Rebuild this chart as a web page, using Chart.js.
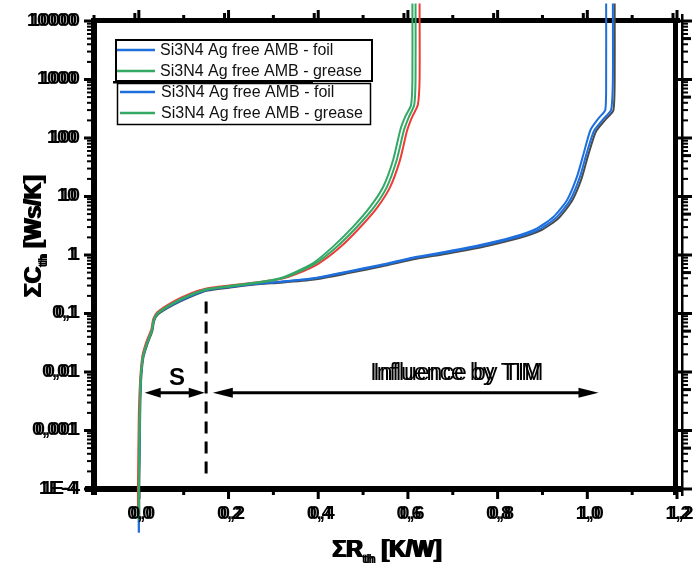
<!DOCTYPE html>
<html><head><meta charset="utf-8">
<script src="https://cdn.jsdelivr.net/npm/chart.js@4/dist/chart.umd.min.js"></script>
<style>html,body{margin:0;padding:0;background:#fff;}#wrap{width:695px;height:570px;}</style>
</head><body><div id="wrap"><canvas id="c" width="695" height="570"></canvas></div>
<script>
// ---- tick labels ----
const xTickValues = [0, 0.2, 0.4, 0.6, 0.8, 1.0, 1.2];
const xTickLabels = ['0,0', '0,2', '0,4', '0,6', '0,8', '1,0', '1,2'];
const xMinorValues = [-0.1, 0.1, 0.3, 0.5, 0.7, 0.9, 1.1];
const yTickValues = [1e-4, 1e-3, 1e-2, 1e-1, 1, 10, 100, 1000, 10000];
const yTickLabels = ['1E-4', '0,001', '0,01', '0,1', '1', '10', '100', '1000', '10000'];

// ---- legend ----
const legendLabels = ['Si3N4 Ag free AMB - foil', 'Si3N4 Ag free AMB - grease', 'Si3N4 Ag free AMB - foil', 'Si3N4 Ag free AMB - grease'];

// ---- series (ΣR_th [K/W], ΣC_th [Ws/K]) ----
const greaseA_R = [0.000, 0.000, 0.002, 0.004, 0.009, 0.018, 0.029, 0.033, 0.042, 0.076, 0.114, 0.152, 0.203, 0.270, 0.315, 0.344, 0.388, 0.433, 0.478, 0.516, 0.545, 0.567, 0.583, 0.594, 0.607, 0.610, 0.610];
const greaseA_C = [3e-5, 1e-4, 0.002, 0.0073, 0.018, 0.031, 0.052, 0.077, 0.102, 0.151, 0.207, 0.262, 0.295, 0.345, 0.40, 0.49, 0.72, 1.39, 3.05, 6.7, 14.7, 42, 137, 231, 366, 1000, 20000];
const greaseB_R = [0.000, 0.000, 0.002, 0.004, 0.009, 0.018, 0.029, 0.033, 0.042, 0.076, 0.114, 0.152, 0.203, 0.270, 0.317, 0.348, 0.393, 0.439, 0.485, 0.524, 0.553, 0.575, 0.591, 0.602, 0.614, 0.617, 0.617];
const greaseB_C = [3e-5, 1e-4, 0.002, 0.0072, 0.018, 0.031, 0.051, 0.076, 0.100, 0.148, 0.205, 0.258, 0.290, 0.338, 0.395, 0.48, 0.71, 1.33, 2.95, 6.5, 14.5, 42, 135, 228, 366, 1000, 20000];
const greaseRed_R = [-0.002, -0.002, 0.000, 0.003, 0.008, 0.017, 0.028, 0.032, 0.041, 0.075, 0.113, 0.151, 0.202, 0.270, 0.320, 0.352, 0.399, 0.446, 0.492, 0.531, 0.560, 0.582, 0.598, 0.609, 0.622, 0.626, 0.626];
const greaseRed_C = [4e-5, 1e-4, 0.002, 0.0075, 0.019, 0.033, 0.054, 0.080, 0.105, 0.157, 0.217, 0.268, 0.300, 0.345, 0.395, 0.475, 0.70, 1.30, 2.9, 6.4, 14.3, 41, 133, 226, 366, 1000, 20000];
const foilA_R = [0.000, 0.000, 0.002, 0.004, 0.009, 0.018, 0.029, 0.033, 0.042, 0.076, 0.114, 0.152, 0.203, 0.270, 0.315, 0.389, 0.464, 0.538, 0.612, 0.672, 0.761, 0.836, 0.888, 0.925, 0.955, 0.977, 0.992, 1.007, 1.025, 1.040, 1.042, 1.042];
const foilA_C = [1.8e-5, 1e-4, 0.002, 0.0073, 0.018, 0.031, 0.052, 0.077, 0.101, 0.145, 0.200, 0.255, 0.288, 0.330, 0.350, 0.400, 0.520, 0.675, 0.910, 1.09, 1.48, 2.05, 2.86, 4.5, 8.7, 21.8, 54.7, 137, 217, 301, 980, 20000];
const foilB_R = [0.000, 0.000, 0.002, 0.004, 0.009, 0.018, 0.029, 0.033, 0.042, 0.076, 0.114, 0.152, 0.203, 0.270, 0.315, 0.390, 0.466, 0.541, 0.616, 0.677, 0.767, 0.842, 0.895, 0.931, 0.961, 0.983, 0.998, 1.015, 1.036, 1.053, 1.057, 1.057];
const foilB_C = [1.8e-5, 1e-4, 0.002, 0.0072, 0.018, 0.031, 0.051, 0.076, 0.100, 0.143, 0.197, 0.252, 0.285, 0.327, 0.345, 0.395, 0.510, 0.665, 0.895, 1.07, 1.45, 2.0, 2.8, 4.4, 8.5, 21, 53, 133, 212, 300, 980, 20000];
const foilGrey_R = [0.001, 0.001, 0.003, 0.005, 0.010, 0.019, 0.030, 0.034, 0.043, 0.077, 0.115, 0.153, 0.204, 0.271, 0.316, 0.391, 0.468, 0.543, 0.619, 0.680, 0.771, 0.846, 0.899, 0.935, 0.965, 0.987, 1.002, 1.019, 1.040, 1.058, 1.061, 1.061];
const foilGrey_C = [3e-5, 1e-4, 0.0019, 0.007, 0.0175, 0.030, 0.050, 0.074, 0.097, 0.140, 0.193, 0.246, 0.278, 0.318, 0.335, 0.380, 0.490, 0.640, 0.860, 1.03, 1.40, 1.93, 2.7, 4.2, 8.2, 20, 51, 128, 205, 295, 980, 20000];

// ---- annotations (data coordinates) ----
const dashLineR = 0.15;
const dashLineC = [1.4e-4, 0.16];
const arrowC = 0.0044;
const sArrowR = [0.013, 0.147];
const timArrowR = [0.165, 1.025];
const sLabel = 'S';
const sLabelAt = [0.085, 0.0079];
const timLabel = 'Influence by TIM';
const timLabelAt = [0.708, 0.0093];

const pts = (R, C) => R.map((r, i) => ({x: r, y: C[i]}));
function ds(R, C, color) {
  return {data: pts(R, C), borderColor: color, backgroundColor: color, borderWidth: 2,
    showLine: true, pointRadius: 0, tension: 0.2, clip: false};
}
const GREEN = '#34a865', RED = '#ee3b38', BLUE = '#1e6fdc', GREY = '#4a4a4a';

function gtext(ctx, s, x, y, dx) { ctx.fillText(s, x, y); ctx.fillText(s, x + dx, y); }

const axesPlugin = {
  id: 'axes',
  beforeDatasetsDraw(chart) {
    const ctx = chart.ctx, xs = chart.scales.x, ys = chart.scales.y;
    const L = xs.getPixelForValue(-0.1), R = xs.getPixelForValue(1.2);
    const T = ys.getPixelForValue(1e4), B = ys.getPixelForValue(1e-4);
    ctx.save();
    ctx.fillStyle = '#000';
    // frame
    ctx.fillRect(L - 3, T - 3, R - L + 6, 5);        // top
    ctx.fillRect(L - 9, B - 3, R - L + 15, 6);       // bottom
    ctx.fillRect(L - 3, T - 3, 6, B - T + 9);        // left
    ctx.fillRect(R - 4, T - 3, 5, B - T + 9);        // right
    ctx.fillRect(R + 4, T - 7, 2.5, B - T + 14);     // right ghost
    // y ticks
    yTickValues.forEach(v => {
      const p = ys.getPixelForValue(v);
      ctx.fillRect(L - 10, p - 1.5, 8, 3);
      ctx.fillRect(R + 1, p - 1.5, 14, 3);
      for (let k = 2; k <= 9 && v < 1e4; k++) {
        const q = ys.getPixelForValue(v * k);
        ctx.fillRect(L - 7, q - 1, 5, 2);
        ctx.fillRect(R + 5, q - 1, 6, 2);
        if (k === 5) ctx.fillRect(R + 5, q - 1.5, 9, 3);
      }
    });
    // x ticks
    xTickValues.forEach(v => {
      const p = xs.getPixelForValue(v);
      ctx.fillRect(p - 1.5, B, 3, 10);
      ctx.fillRect(p - 1.5, T - 11, 3, 9);
      ctx.fillRect(p - 5.5, T - 8, 3, 6);
    });
    xMinorValues.forEach(v => {
      const p = xs.getPixelForValue(v);
      ctx.fillRect(p - 1.5, B, 3, 6);
      ctx.fillRect(p - 1.5, T - 6, 3, 4);
    });
    ctx.restore();
  },
  afterDraw(chart) {
    const ctx = chart.ctx, xs = chart.scales.x, ys = chart.scales.y;
    const B = ys.getPixelForValue(1e-4);
    ctx.save();
    ctx.fillStyle = '#000';
    // tick labels
    ctx.font = 'bold 18px "Liberation Sans", Arial, sans-serif';
    ctx.textAlign = 'right'; ctx.textBaseline = 'middle';
    yTickValues.forEach((v, i) => gtext(ctx, yTickLabels[i], 80, ys.getPixelForValue(v), -3));
    ctx.textAlign = 'center';
    xTickValues.forEach((v, i) => gtext(ctx, xTickLabels[i], xs.getPixelForValue(v) + 1, B + 25, 3));

    // x title
    const big = 'bold 23px "Liberation Sans", Arial, sans-serif', sub = 'bold 13px "Liberation Sans", Arial, sans-serif';
    function title(parts, cx, by) {
      ctx.textAlign = 'left'; ctx.textBaseline = 'alphabetic';
      let w = 0;
      parts.forEach(p => { ctx.font = p[1] ? sub : big; w += ctx.measureText(p[0]).width; });
      let x = cx - w / 2;
      parts.forEach(p => {
        ctx.font = p[1] ? sub : big;
        gtext(ctx, p[0], x, by + (p[1] ? 6 : 0), 2);
        x += ctx.measureText(p[0]).width;
      });
    }
    title([['ΣR', 0], ['th', 1], [' [K/W]', 0]], 386, 557);
    ctx.save();
    ctx.translate(41, 237); ctx.rotate(-Math.PI / 2);
    title([['ΣC', 0], ['th', 1], [' [Ws/K]', 0]], 0, 0);
    ctx.restore();

    // dashed line
    ctx.strokeStyle = '#000'; ctx.lineWidth = 3; ctx.setLineDash([12, 8]);
    const dx = xs.getPixelForValue(dashLineR);
    ctx.beginPath(); ctx.moveTo(dx, ys.getPixelForValue(dashLineC[1])); ctx.lineTo(dx, ys.getPixelForValue(dashLineC[0])); ctx.stroke();
    ctx.setLineDash([]);

    // arrows
    function arrow(x1, x2, y, heads, hl) {
      ctx.lineWidth = 3;
      ctx.beginPath(); ctx.moveTo(x1 + (heads[0] ? hl - 2 : 0), y); ctx.lineTo(x2 - (heads[1] ? hl - 2 : 0), y); ctx.stroke();
      if (heads[0]) { ctx.beginPath(); ctx.moveTo(x1, y); ctx.lineTo(x1 + hl, y - 5); ctx.lineTo(x1 + hl, y + 5); ctx.closePath(); ctx.fill(); }
      if (heads[1]) { ctx.beginPath(); ctx.moveTo(x2, y); ctx.lineTo(x2 - hl, y - 5); ctx.lineTo(x2 - hl, y + 5); ctx.closePath(); ctx.fill(); }
    }
    const ay = ys.getPixelForValue(arrowC);
    arrow(xs.getPixelForValue(sArrowR[0]), xs.getPixelForValue(sArrowR[1]), ay, [1, 1], 16);
    arrow(xs.getPixelForValue(timArrowR[0]), xs.getPixelForValue(timArrowR[1]), ay, [1, 1], 20);
    ctx.textAlign = 'center'; ctx.textBaseline = 'middle';
    ctx.font = 'bold 24px "Liberation Sans", Arial, sans-serif';
    ctx.fillText(sLabel, xs.getPixelForValue(sLabelAt[0]), ys.getPixelForValue(sLabelAt[1]));
    ctx.font = '23px "Liberation Sans", Arial, sans-serif';
    gtext(ctx, timLabel, xs.getPixelForValue(timLabelAt[0]) - 1, ys.getPixelForValue(timLabelAt[1]), 3);

    // legends
    const colors = [BLUE, GREEN, BLUE, GREEN];
    const rows = [50, 71, 92, 113];
    ctx.fillStyle = '#fff';
    ctx.fillRect(117, 83, 254, 42);
    ctx.fillRect(115, 39, 258, 43);
    ctx.fillStyle = '#000';
    ctx.lineWidth = 1.5; ctx.strokeRect(117.5, 83.5, 253, 41);
    ctx.lineWidth = 2; ctx.strokeRect(116, 40, 256, 41);
    ctx.fillRect(113, 81, 200, 2.5);
    ctx.font = '16px "Liberation Sans", Arial, sans-serif';
    ctx.textAlign = 'left'; ctx.textBaseline = 'middle';
    legendLabels.forEach((s, i) => {
      ctx.strokeStyle = colors[i]; ctx.lineWidth = 2.5;
      ctx.beginPath(); ctx.moveTo(i < 2 ? 117 : 120, rows[i]); ctx.lineTo(155, rows[i]); ctx.stroke();
      ctx.fillStyle = '#111';
      ctx.fillText(s, i < 2 ? 160 : 161, rows[i] + 1);
    });
    ctx.restore();
  }
};

new Chart(document.getElementById('c'), {
  type: 'scatter',
  data: {datasets: [
    ds(greaseA_R, greaseA_C, GREEN),
    ds(greaseB_R, greaseB_C, GREEN),
    ds(greaseRed_R, greaseRed_C, RED),
    ds(foilA_R, foilA_C, BLUE),
    ds(foilB_R, foilB_C, BLUE),
    ds(foilGrey_R, foilGrey_C, GREY)
  ]},
  options: {
    responsive: false, animation: false, devicePixelRatio: 1,
    layout: {padding: {left: 94, right: 18, top: 21, bottom: 81}},
    scales: {
      x: {type: 'linear', min: -0.1, max: 1.2, display: false},
      y: {type: 'logarithmic', min: 1e-4, max: 1e4, display: false}
    },
    plugins: {legend: {display: false}, tooltip: {enabled: false}},
    events: []
  },
  plugins: [axesPlugin]
});
</script>
</body></html>
